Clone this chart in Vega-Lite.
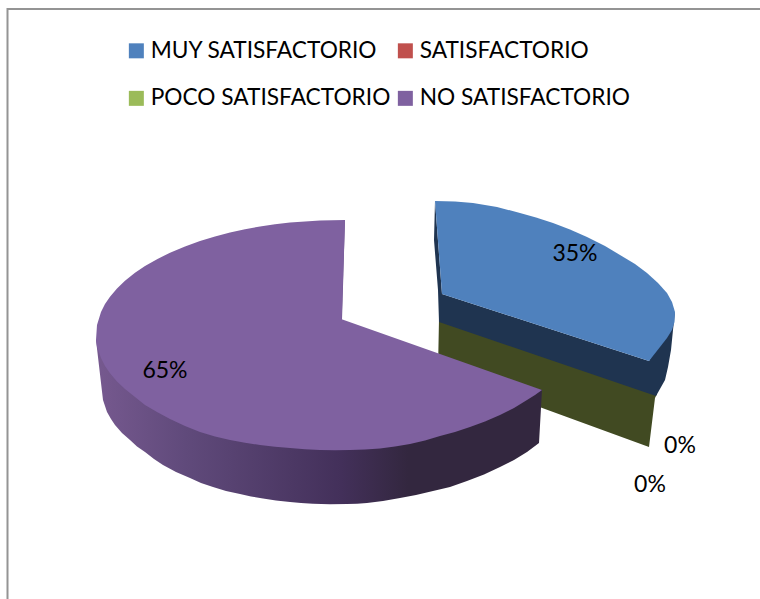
{
  "$schema": "https://vega.github.io/schema/vega-lite/v6.json",
  "description": "Exploded 3D pie of satisfaction shares; the tilted faces are drawn as outlines in chart coordinates.",
  "width": 760,
  "height": 599,
  "autosize": {"type": "none"},
  "padding": 0,
  "background": "white",
  "view": {"stroke": null},
  "config": {"font": "Lato"},
  "datasets": {
    "shares": [
      {"category": "MUY SATISFACTORIO", "share": 0.35, "labelX": 575, "labelY": 254},
      {"category": "SATISFACTORIO", "share": 0, "labelX": 680, "labelY": 446},
      {"category": "POCO SATISFACTORIO", "share": 0, "labelX": 650, "labelY": 485},
      {"category": "NO SATISFACTORIO", "share": 0.65, "labelX": 165, "labelY": 371}
    ],
    "frame": [
      {"n": 1, "x": 7.5, "y": 599},
      {"n": 2, "x": 7.5, "y": 9},
      {"n": 3, "x": 760, "y": 9}
    ],
    "greenSide": [
      {"n": 1, "x": 439, "y": 319},
      {"n": 2, "x": 657, "y": 394},
      {"n": 3, "x": 655, "y": 398},
      {"n": 4, "x": 649, "y": 447},
      {"n": 5, "x": 438, "y": 370}
    ],
    "blueSide": [
      {"n": 1, "x": 435, "y": 201},
      {"n": 2, "x": 434, "y": 240},
      {"n": 3, "x": 438, "y": 290},
      {"n": 4, "x": 439, "y": 322},
      {"n": 5, "x": 656, "y": 396},
      {"n": 6, "x": 665, "y": 380},
      {"n": 7, "x": 668, "y": 367},
      {"n": 8, "x": 671, "y": 350},
      {"n": 9, "x": 673, "y": 330},
      {"n": 10, "x": 675, "y": 312},
      {"n": 11, "x": 649, "y": 361},
      {"n": 12, "x": 442, "y": 294}
    ],
    "purpleInner": [
      {"n": 1, "x": 345, "y": 220},
      {"n": 2, "x": 342, "y": 320},
      {"n": 3, "x": 338, "y": 319},
      {"n": 4, "x": 343, "y": 221}
    ],
    "purpleSide": [
      {"n": 1, "x": 96, "y": 340},
      {"n": 2, "x": 103, "y": 400},
      {"n": 3, "x": 105, "y": 406},
      {"n": 4, "x": 107, "y": 412},
      {"n": 5, "x": 111, "y": 419},
      {"n": 6, "x": 115, "y": 425},
      {"n": 7, "x": 122, "y": 433},
      {"n": 8, "x": 130, "y": 440},
      {"n": 9, "x": 137, "y": 446.5},
      {"n": 10, "x": 145, "y": 452},
      {"n": 11, "x": 154, "y": 459},
      {"n": 12, "x": 163, "y": 465},
      {"n": 13, "x": 176, "y": 472},
      {"n": 14, "x": 190, "y": 478},
      {"n": 15, "x": 201, "y": 483},
      {"n": 16, "x": 213, "y": 487},
      {"n": 17, "x": 226, "y": 491},
      {"n": 18, "x": 240, "y": 494},
      {"n": 19, "x": 251, "y": 496.5},
      {"n": 20, "x": 263, "y": 498.5},
      {"n": 21, "x": 276, "y": 500.5},
      {"n": 22, "x": 290, "y": 502},
      {"n": 23, "x": 301, "y": 503},
      {"n": 24, "x": 313, "y": 503.7},
      {"n": 25, "x": 330, "y": 504.2},
      {"n": 26, "x": 347, "y": 504},
      {"n": 27, "x": 357, "y": 503.7},
      {"n": 28, "x": 367, "y": 503},
      {"n": 29, "x": 383, "y": 501},
      {"n": 30, "x": 400, "y": 498},
      {"n": 31, "x": 416, "y": 495},
      {"n": 32, "x": 433, "y": 491},
      {"n": 33, "x": 450, "y": 487},
      {"n": 34, "x": 467, "y": 481},
      {"n": 35, "x": 484, "y": 474.5},
      {"n": 36, "x": 500, "y": 467},
      {"n": 37, "x": 514, "y": 460},
      {"n": 38, "x": 527, "y": 452},
      {"n": 39, "x": 539, "y": 443},
      {"n": 40, "x": 542, "y": 390},
      {"n": 41, "x": 340, "y": 330}
    ],
    "topFaces": [
      {"category": "MUY SATISFACTORIO", "n": 1, "x": 442, "y": 294},
      {"category": "MUY SATISFACTORIO", "n": 2, "x": 435, "y": 201},
      {"category": "MUY SATISFACTORIO", "n": 3, "x": 455, "y": 201.5},
      {"category": "MUY SATISFACTORIO", "n": 4, "x": 473, "y": 203},
      {"category": "MUY SATISFACTORIO", "n": 5, "x": 497, "y": 207},
      {"category": "MUY SATISFACTORIO", "n": 6, "x": 520, "y": 213},
      {"category": "MUY SATISFACTORIO", "n": 7, "x": 536, "y": 217.5},
      {"category": "MUY SATISFACTORIO", "n": 8, "x": 553, "y": 223},
      {"category": "MUY SATISFACTORIO", "n": 9, "x": 570, "y": 229.5},
      {"category": "MUY SATISFACTORIO", "n": 10, "x": 587, "y": 237},
      {"category": "MUY SATISFACTORIO", "n": 11, "x": 605, "y": 246},
      {"category": "MUY SATISFACTORIO", "n": 12, "x": 620, "y": 255},
      {"category": "MUY SATISFACTORIO", "n": 13, "x": 635, "y": 264},
      {"category": "MUY SATISFACTORIO", "n": 14, "x": 647, "y": 273},
      {"category": "MUY SATISFACTORIO", "n": 15, "x": 658, "y": 283},
      {"category": "MUY SATISFACTORIO", "n": 16, "x": 667, "y": 293},
      {"category": "MUY SATISFACTORIO", "n": 17, "x": 672, "y": 302},
      {"category": "MUY SATISFACTORIO", "n": 18, "x": 675, "y": 312},
      {"category": "MUY SATISFACTORIO", "n": 19, "x": 674.5, "y": 322},
      {"category": "MUY SATISFACTORIO", "n": 20, "x": 672, "y": 330},
      {"category": "MUY SATISFACTORIO", "n": 21, "x": 667, "y": 338},
      {"category": "MUY SATISFACTORIO", "n": 22, "x": 660, "y": 347},
      {"category": "MUY SATISFACTORIO", "n": 23, "x": 649, "y": 361},
      {"category": "NO SATISFACTORIO", "n": 1, "x": 341.7, "y": 319.3},
      {"category": "NO SATISFACTORIO", "n": 2, "x": 345, "y": 220},
      {"category": "NO SATISFACTORIO", "n": 3, "x": 320, "y": 220.4},
      {"category": "NO SATISFACTORIO", "n": 4, "x": 290, "y": 222.5},
      {"category": "NO SATISFACTORIO", "n": 5, "x": 275, "y": 224.2},
      {"category": "NO SATISFACTORIO", "n": 6, "x": 260, "y": 226.5},
      {"category": "NO SATISFACTORIO", "n": 7, "x": 245, "y": 229.2},
      {"category": "NO SATISFACTORIO", "n": 8, "x": 230, "y": 232.5},
      {"category": "NO SATISFACTORIO", "n": 9, "x": 215, "y": 236.4},
      {"category": "NO SATISFACTORIO", "n": 10, "x": 200, "y": 241},
      {"category": "NO SATISFACTORIO", "n": 11, "x": 185, "y": 246.4},
      {"category": "NO SATISFACTORIO", "n": 12, "x": 170, "y": 252.7},
      {"category": "NO SATISFACTORIO", "n": 13, "x": 157.5, "y": 259},
      {"category": "NO SATISFACTORIO", "n": 14, "x": 145, "y": 266},
      {"category": "NO SATISFACTORIO", "n": 15, "x": 135, "y": 272.8},
      {"category": "NO SATISFACTORIO", "n": 16, "x": 125, "y": 280.7},
      {"category": "NO SATISFACTORIO", "n": 17, "x": 117, "y": 288.4},
      {"category": "NO SATISFACTORIO", "n": 18, "x": 110, "y": 296.7},
      {"category": "NO SATISFACTORIO", "n": 19, "x": 105, "y": 304},
      {"category": "NO SATISFACTORIO", "n": 20, "x": 101, "y": 312},
      {"category": "NO SATISFACTORIO", "n": 21, "x": 97, "y": 325},
      {"category": "NO SATISFACTORIO", "n": 22, "x": 96, "y": 340},
      {"category": "NO SATISFACTORIO", "n": 23, "x": 97, "y": 347},
      {"category": "NO SATISFACTORIO", "n": 24, "x": 101, "y": 358},
      {"category": "NO SATISFACTORIO", "n": 25, "x": 105, "y": 366},
      {"category": "NO SATISFACTORIO", "n": 26, "x": 110, "y": 373.3},
      {"category": "NO SATISFACTORIO", "n": 27, "x": 117, "y": 381.5},
      {"category": "NO SATISFACTORIO", "n": 28, "x": 125, "y": 389},
      {"category": "NO SATISFACTORIO", "n": 29, "x": 135, "y": 397},
      {"category": "NO SATISFACTORIO", "n": 30, "x": 145, "y": 405},
      {"category": "NO SATISFACTORIO", "n": 31, "x": 157, "y": 412},
      {"category": "NO SATISFACTORIO", "n": 32, "x": 170, "y": 419},
      {"category": "NO SATISFACTORIO", "n": 33, "x": 185, "y": 426},
      {"category": "NO SATISFACTORIO", "n": 34, "x": 200, "y": 432},
      {"category": "NO SATISFACTORIO", "n": 35, "x": 215, "y": 436.5},
      {"category": "NO SATISFACTORIO", "n": 36, "x": 230, "y": 440},
      {"category": "NO SATISFACTORIO", "n": 37, "x": 245, "y": 442.8},
      {"category": "NO SATISFACTORIO", "n": 38, "x": 260, "y": 445},
      {"category": "NO SATISFACTORIO", "n": 39, "x": 275, "y": 446.8},
      {"category": "NO SATISFACTORIO", "n": 40, "x": 290, "y": 448},
      {"category": "NO SATISFACTORIO", "n": 41, "x": 305, "y": 449.2},
      {"category": "NO SATISFACTORIO", "n": 42, "x": 320, "y": 450},
      {"category": "NO SATISFACTORIO", "n": 43, "x": 335, "y": 450.3},
      {"category": "NO SATISFACTORIO", "n": 44, "x": 350, "y": 450},
      {"category": "NO SATISFACTORIO", "n": 45, "x": 365, "y": 449.5},
      {"category": "NO SATISFACTORIO", "n": 46, "x": 380, "y": 448.5},
      {"category": "NO SATISFACTORIO", "n": 47, "x": 395, "y": 446.5},
      {"category": "NO SATISFACTORIO", "n": 48, "x": 410, "y": 444},
      {"category": "NO SATISFACTORIO", "n": 49, "x": 425, "y": 440.5},
      {"category": "NO SATISFACTORIO", "n": 50, "x": 440, "y": 436},
      {"category": "NO SATISFACTORIO", "n": 51, "x": 455, "y": 432},
      {"category": "NO SATISFACTORIO", "n": 52, "x": 470, "y": 427},
      {"category": "NO SATISFACTORIO", "n": 53, "x": 485, "y": 421.5},
      {"category": "NO SATISFACTORIO", "n": 54, "x": 500, "y": 415},
      {"category": "NO SATISFACTORIO", "n": 55, "x": 514, "y": 408},
      {"category": "NO SATISFACTORIO", "n": 56, "x": 527, "y": 400},
      {"category": "NO SATISFACTORIO", "n": 57, "x": 535, "y": 395},
      {"category": "NO SATISFACTORIO", "n": 58, "x": 542, "y": 390}
    ]
  },
  "encoding": {
    "x": {"field": "x", "type": "quantitative", "axis": null, "scale": {"domain": [0, 760], "nice": false, "zero": false}},
    "y": {"field": "y", "type": "quantitative", "axis": null, "scale": {"domain": [599, 0], "nice": false, "zero": false}},
    "order": {"field": "n", "type": "quantitative"}
  },
  "layer": [
    {
      "data": {"name": "frame"},
      "mark": {"type": "line", "stroke": "#949494", "strokeWidth": 2}
    },
    {
      "data": {"name": "greenSide"},
      "mark": {"type": "line", "fill": "#414a22", "stroke": null, "strokeWidth": 0}
    },
    {
      "data": {"name": "blueSide"},
      "mark": {"type": "line", "fill": "#1f3450", "stroke": null, "strokeWidth": 0}
    },
    {
      "data": {"name": "purpleInner"},
      "mark": {"type": "line", "fill": "#6f568b", "stroke": null, "strokeWidth": 0}
    },
    {
      "data": {"name": "purpleSide"},
      "mark": {
        "type": "line",
        "stroke": null,
        "strokeWidth": 0,
        "fill": {
          "gradient": "linear",
          "x1": 0, "y1": 0, "x2": 1, "y2": 0,
          "stops": [
            {"offset": 0, "color": "#76598f"},
            {"offset": 0.2, "color": "#604a7b"},
            {"offset": 0.55, "color": "#43305a"},
            {"offset": 0.7, "color": "#33273f"},
            {"offset": 1, "color": "#33273f"}
          ]
        }
      }
    },
    {
      "data": {"name": "topFaces"},
      "mark": {"type": "line", "stroke": null, "strokeWidth": 0},
      "encoding": {
        "fill": {
          "field": "category",
          "type": "nominal",
          "sort": null,
          "scale": {
            "domain": ["MUY SATISFACTORIO", "SATISFACTORIO", "POCO SATISFACTORIO", "NO SATISFACTORIO"],
            "range": ["#4f81bd", "#c0504d", "#9bbb59", "#7f61a0"]
          },
          "legend": {
            "title": null,
            "orient": "none",
            "direction": "horizontal",
            "legendX": 125,
            "legendY": 39,
            "padding": 0,
            "columns": 2,
            "symbolType": "square",
            "symbolSize": 225,
            "symbolStrokeWidth": 0,
            "labelFontSize": 22.7,
            "labelFont": "Lato",
            "labelColor": "#000000",
            "labelOffset": 3,
            "labelLimit": 400,
            "rowPadding": 24,
            "columnPadding": 3
          }
        }
      }
    },
    {
      "data": {"name": "shares"},
      "mark": {"type": "text", "fontSize": 23, "color": "#000000", "align": "center", "baseline": "middle"},
      "encoding": {
        "x": {"field": "labelX", "type": "quantitative"},
        "y": {"field": "labelY", "type": "quantitative"},
        "order": {"value": null},
        "text": {"field": "share", "type": "quantitative", "format": ".0%"}
      }
    }
  ]
}
